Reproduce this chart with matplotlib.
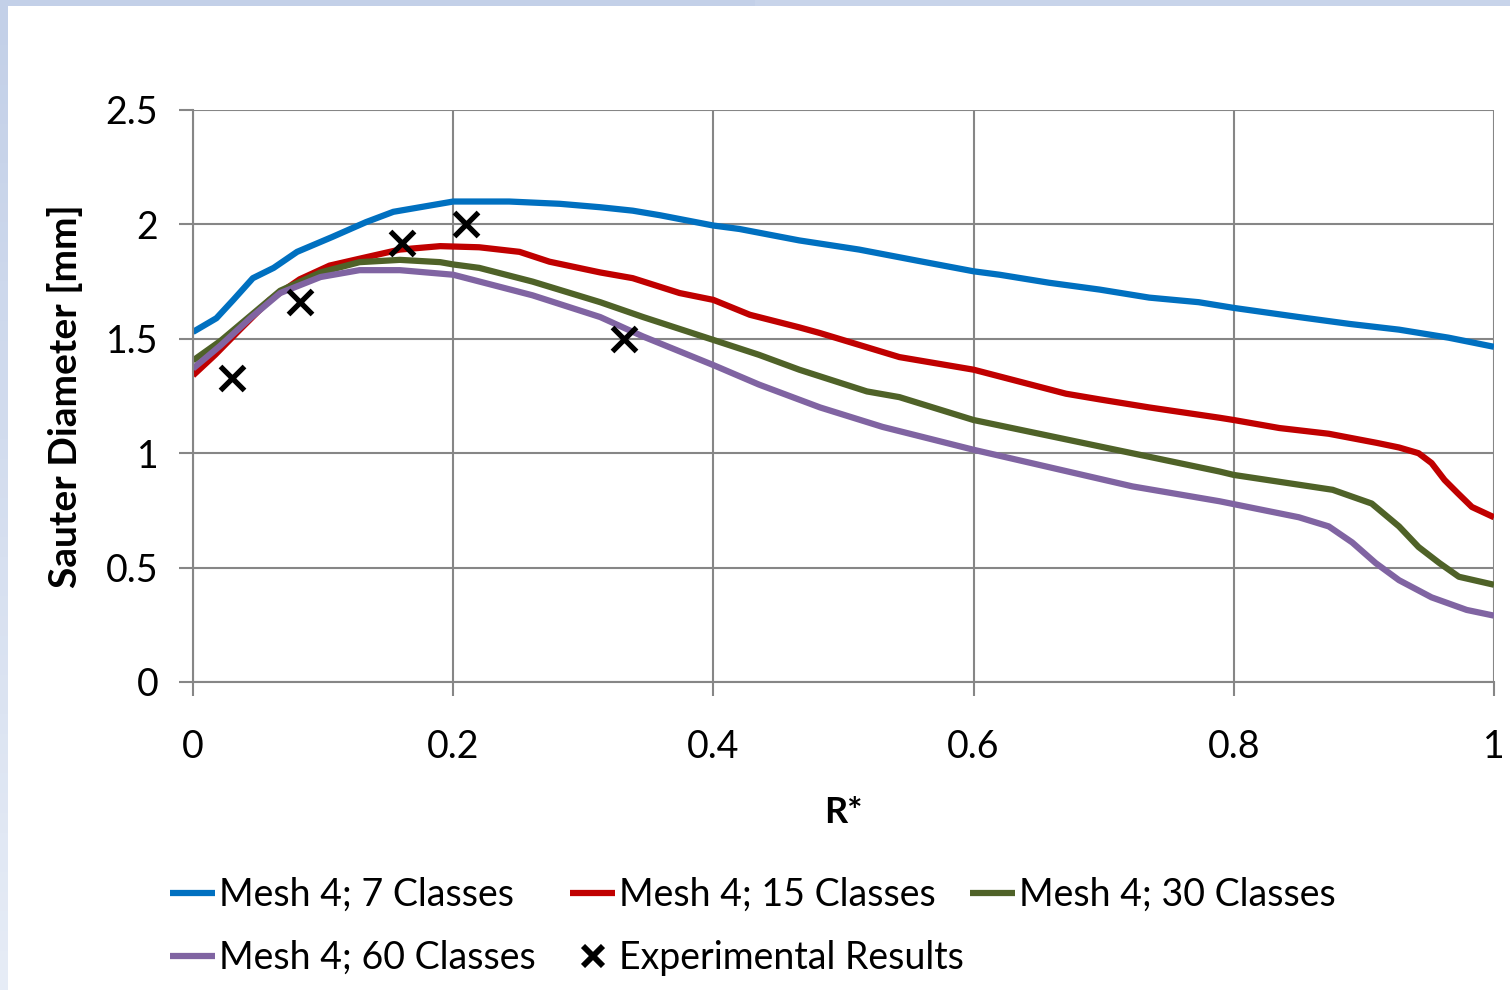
import numpy as np
import matplotlib
matplotlib.use("Agg")
import matplotlib.pyplot as plt
from matplotlib.lines import Line2D

plt.rcParams['font.family'] = ['Lato', 'DejaVu Sans']

# Mesh 4; 7 Classes
blue_x = [0, 0.018, 0.031, 0.046, 0.062, 0.080, 0.107, 0.133, 0.154, 0.2, 0.243,
          0.282, 0.313, 0.338, 0.359, 0.4, 0.42, 0.466, 0.512, 0.558, 0.6, 0.62,
          0.658, 0.697, 0.735, 0.773, 0.8, 0.85, 0.889, 0.927, 0.965, 1.0]
blue_y = [1.53, 1.59, 1.67, 1.765, 1.81, 1.88, 1.945, 2.01, 2.055, 2.10, 2.10,
          2.09, 2.075, 2.06, 2.04, 1.995, 1.98, 1.93, 1.89, 1.84, 1.795, 1.78,
          1.745, 1.715, 1.68, 1.66, 1.635, 1.595, 1.565, 1.54, 1.505, 1.465]

# Mesh 4; 15 Classes
red_x = [0, 0.017, 0.036, 0.059, 0.082, 0.105, 0.128, 0.159, 0.19, 0.22, 0.251,
         0.274, 0.313, 0.338, 0.374, 0.4, 0.428, 0.466, 0.482, 0.543, 0.6, 0.671,
         0.697, 0.735, 0.789, 0.8, 0.835, 0.873, 0.91, 0.927, 0.942, 0.952,
         0.962, 0.972, 0.983, 1.0]
red_y = [1.34, 1.43, 1.54, 1.67, 1.76, 1.82, 1.85, 1.89, 1.905, 1.90, 1.88,
         1.837, 1.79, 1.765, 1.70, 1.67, 1.605, 1.55, 1.525, 1.42, 1.365, 1.26,
         1.235, 1.20, 1.155, 1.145, 1.11, 1.085, 1.045, 1.025, 1.0, 0.957,
         0.883, 0.826, 0.765, 0.72]

# Mesh 4; 30 Classes
green_x = [0, 0.021, 0.044, 0.067, 0.098, 0.128, 0.159, 0.19, 0.2, 0.22, 0.261,
           0.313, 0.346, 0.4, 0.435, 0.466, 0.518, 0.543, 0.6, 0.684, 0.789,
           0.8, 0.876, 0.906, 0.927, 0.942, 0.958, 0.973, 1.0]
green_y = [1.405, 1.49, 1.60, 1.71, 1.79, 1.835, 1.845, 1.835, 1.825, 1.81, 1.75,
           1.66, 1.595, 1.495, 1.43, 1.365, 1.27, 1.245, 1.145, 1.045, 0.92,
           0.905, 0.84, 0.78, 0.68, 0.59, 0.52, 0.46, 0.425]

# Mesh 4; 60 Classes
purple_x = [0, 0.021, 0.044, 0.067, 0.098, 0.128, 0.159, 0.2, 0.261, 0.313,
            0.346, 0.4, 0.435, 0.482, 0.53, 0.6, 0.722, 0.789, 0.85, 0.873,
            0.891, 0.909, 0.927, 0.952, 0.979, 1.0]
purple_y = [1.37, 1.47, 1.59, 1.70, 1.77, 1.80, 1.80, 1.78, 1.69, 1.595,
            1.51, 1.385, 1.30, 1.20, 1.115, 1.015, 0.855, 0.79, 0.72, 0.68,
            0.61, 0.52, 0.445, 0.37, 0.315, 0.29]

# Experimental Results
exp_x = [0.030, 0.082, 0.161, 0.210, 0.331]
exp_y = [1.33, 1.66, 1.92, 2.00, 1.50]

x_ticks = [0, 0.2, 0.4, 0.6, 0.8, 1.0]
x_labels = ["0", "0.2", "0.4", "0.6", "0.8", "1"]
y_ticks = [0, 0.5, 1.0, 1.5, 2.0, 2.5]
y_labels = ["0", "0.5", "1", "1.5", "2", "2.5"]

fig = plt.figure(figsize=(15.1, 9.9), dpi=100)
fig.patch.set_facecolor("white")

# light blue slide edge, top and left
top = fig.add_axes([0, 1 - 6 / 990, 1, 6 / 990])
top.imshow([[0, 1]], cmap=matplotlib.colors.LinearSegmentedColormap.from_list(
    "t", ["#C3D0E8", "#C8D4EA"]), aspect="auto", extent=[0, 1, 0, 1])
top.axis("off")
left = fig.add_axes([0, 0, 8 / 1510, 1 - 6 / 990])
left.imshow(np.linspace(0, 1, 50)[:, None], cmap=matplotlib.colors.LinearSegmentedColormap.from_list(
    "l", ["#C3D0E8", "#E6ECF6"]), aspect="auto", extent=[0, 1, 0, 1])
left.axis("off")

ax = fig.add_axes([193 / 1510, 1 - 682 / 990, 1301 / 1510, 572 / 990])
grid_c = "#868686"

lw = 4.5
l1, = ax.plot(blue_x, blue_y, color="#0070C0", lw=lw, solid_capstyle="butt")
l2, = ax.plot(red_x, red_y, color="#C00000", lw=lw, solid_capstyle="butt")
l3, = ax.plot(green_x, green_y, color="#4F6228", lw=lw, solid_capstyle="butt")
l4, = ax.plot(purple_x, purple_y, color="#8064A2", lw=lw, solid_capstyle="butt")
ex, = ax.plot(exp_x, exp_y, ls="none", marker="x", color="black",
              markersize=17, markeredgewidth=3.8)

ax.set_xlim(0, 1)
ax.set_ylim(0, 2.5)
ax.set_xticks(x_ticks, x_labels)
ax.set_yticks(y_ticks, y_labels)
ax.grid(True, color=grid_c, lw=1.5)
ax.set_axisbelow(True)
for s in ax.spines.values():
    s.set_visible(False)
for side in ["left", "bottom"]:
    ax.spines[side].set_visible(True)
    ax.spines[side].set_color(grid_c)
    ax.spines[side].set_linewidth(1.5)
ax.tick_params(axis="both", direction="out", color=grid_c, width=1.5,
               length=10, labelsize=27, labelcolor="black")
ax.tick_params(axis="x", pad=24)
ax.tick_params(axis="y", pad=15)

ax.set_xlabel("R*", fontsize=26, fontweight="bold", labelpad=22)
ax.set_ylabel("Sauter Diameter [mm]", fontsize=28, fontweight="bold", labelpad=16)

leg_ex = Line2D([], [], ls="none", marker="x", color="black",
                markersize=15, markeredgewidth=4.2)
columns = [
    (170, [l1, l4], ["Mesh 4; 7 Classes", "Mesh 4; 60 Classes"]),
    (570, [l2, leg_ex], ["Mesh 4; 15 Classes", "Experimental Results"]),
    (970, [l3], ["Mesh 4; 30 Classes"]),
]
for xpix, hs, lbs in columns:
    fig.legend(hs, lbs, loc="upper left",
               bbox_to_anchor=(xpix / 1510, 1 - 877 / 990), frameon=False,
               fontsize=27, handlelength=1.2, handletextpad=0.1,
               labelspacing=0.72, borderaxespad=0, borderpad=0)

fig.savefig("out.png", dpi=100, facecolor="white")
